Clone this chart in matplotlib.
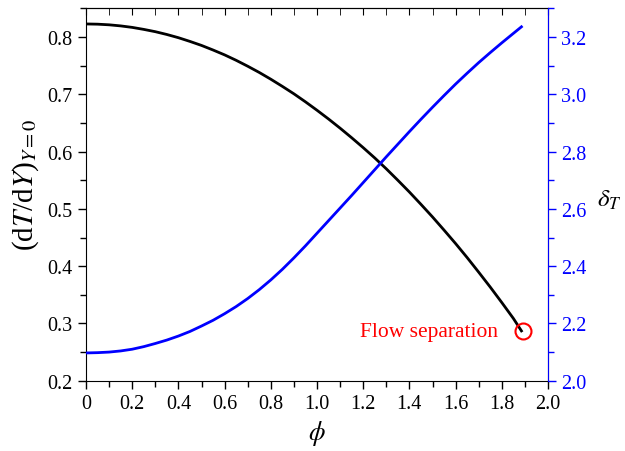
import matplotlib
matplotlib.use('Agg')
import matplotlib.pyplot as plt
from matplotlib.ticker import MultipleLocator

# данные
phi = [0.0, 0.05, 0.1, 0.15, 0.2, 0.25, 0.3, 0.35, 0.4, 0.45,
       0.5, 0.55, 0.6, 0.65, 0.7, 0.75, 0.8, 0.85, 0.9, 0.95,
       1.0, 1.05, 1.1, 1.15, 1.2, 1.25, 1.3, 1.35, 1.4, 1.45,
       1.5, 1.55, 1.6, 1.65, 1.7, 1.75, 1.8, 1.85, 1.885]
dTdY = [0.823, 0.8226, 0.8215, 0.8196, 0.817, 0.8135, 0.8095, 0.8046, 0.799, 0.7925,
        0.7855, 0.7775, 0.769, 0.7595, 0.7492, 0.7383, 0.7265, 0.714, 0.701, 0.687,
        0.6723, 0.657, 0.641, 0.6243, 0.607, 0.589, 0.570, 0.550, 0.5295, 0.508,
        0.486, 0.463, 0.4395, 0.415, 0.3895, 0.3635, 0.3365, 0.3088, 0.287]
delta_T = [2.097, 2.098, 2.100, 2.104, 2.110, 2.119, 2.130, 2.142, 2.156, 2.172,
           2.191, 2.211, 2.234, 2.259, 2.287, 2.318, 2.352, 2.389, 2.429, 2.471,
           2.515, 2.559, 2.603, 2.647, 2.692, 2.737, 2.782, 2.826, 2.870, 2.913,
           2.955, 2.996, 3.036, 3.074, 3.111, 3.146, 3.180, 3.213, 3.236]
sep_phi = 1.89
sep_val = 0.286

plt.rcParams['font.family'] = ['Liberation Serif', 'DejaVu Serif']
plt.rcParams['mathtext.fontset'] = 'stix'

fig = plt.figure(figsize=(6.25, 4.52), dpi=100)
ax = fig.add_axes([0.1376, 0.1555, 0.7392, 0.8235])

ax.plot(phi, dTdY, color='black', lw=2)
ax.plot(sep_phi, sep_val, 'o', ms=11.5, mfc='none', mec='red', mew=1.5)
ax.text(sep_phi - 0.105, sep_val, 'Flow separation', color='red', fontsize=15.5,
        ha='right', va='center')

ax.set_xlim(0, 2.0)
ax.set_ylim(0.2, 0.85)
ax.xaxis.set_minor_locator(MultipleLocator(0.1))
ax.yaxis.set_major_locator(MultipleLocator(0.1))
ax.yaxis.set_minor_locator(MultipleLocator(0.05))
ax.set_xticks([0, 0.2, 0.4, 0.6, 0.8, 1.0, 1.2, 1.4, 1.6, 1.8, 2.0])
ax.set_xticklabels(['0', '0.2', '0.4', '0.6', '0.8', '1.0', '1.2', '1.4', '1.6', '1.8', '2.0'])
ax.tick_params(axis='both', which='major', direction='out', length=6, width=1, labelsize=14.5)
ax.tick_params(axis='both', which='minor', direction='out', length=4, width=1)
ax.tick_params(axis='y', right=False)

# верхние засечки внутрь
top = ax.secondary_xaxis('top')
top.xaxis.set_major_locator(MultipleLocator(0.2))
top.xaxis.set_minor_locator(MultipleLocator(0.1))
top.tick_params(which='both', direction='in', length=5, labeltop=False)

ax.set_xlabel(r'$\phi$', fontsize=19, labelpad=4)
ax.set_ylabel(r'(d$T$/d$Y$)$_{Y=0}$', fontsize=21, ha='center', va='center')
ax.yaxis.set_label_coords(-0.131, 0.528)

# правая ось
ax2 = ax.twinx()
ax2.plot(phi, delta_T, color='blue', lw=2)
ax2.set_ylim(2.0, 3.3)
ax2.yaxis.set_minor_locator(MultipleLocator(0.1))
ax2.set_yticks([2.0, 2.2, 2.4, 2.6, 2.8, 3.0, 3.2])
ax2.set_yticklabels(['2.0', '2.2', '2.4', '2.6', '2.8', '3.0', '3.2'])
ax2.tick_params(axis='y', which='major', direction='out', length=6, width=1,
                colors='blue', labelsize=14.5)
ax2.tick_params(axis='y', which='minor', direction='out', length=4, width=1, colors='blue')
ax2.spines['right'].set_color('blue')
ax2.spines['left'].set_visible(False)
ax2.spines['top'].set_visible(False)
ax2.spines['bottom'].set_visible(False)
ax2.set_ylabel(r'$\delta_T$', fontsize=18, rotation=0, ha='left', va='center')
ax2.yaxis.set_label_coords(1.105, 0.488)

fig.savefig('out.png', dpi=100)
